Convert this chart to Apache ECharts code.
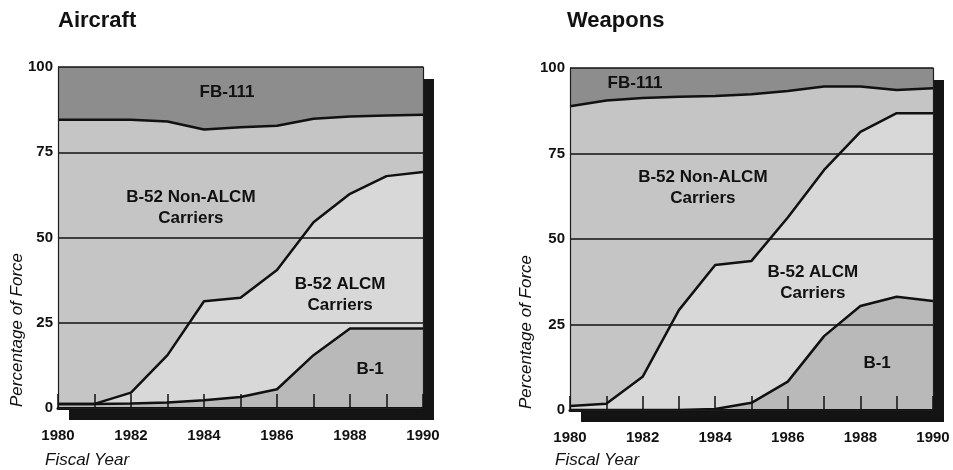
<!DOCTYPE html>
<html>
<head>
<meta charset="utf-8">
<script src="https://cdn.jsdelivr.net/npm/echarts@6/dist/echarts.min.js"></script>
<style>
  html, body { margin: 0; padding: 0; background: #ffffff; }
  #chart { width: 953px; height: 470px; }
</style>
</head>
<body>
<div id="chart"></div>
<script>
// Fiscal years on the horizontal axis
const years = [1980, 1981, 1982, 1983, 1984, 1985, 1986, 1987, 1988, 1989, 1990];
const yTicks = [0, 25, 50, 75, 100];

// Aircraft: cumulative upper edge of each band (percent of force)
const aircraftNonAlcmTop = [84.5, 84.5, 84.5, 84, 81.7, 82.3, 82.8, 84.8, 85.5, 85.8, 86];
const aircraftAlcmTop    = [1.2, 1.2, 4.5, 15.5, 31.3, 32.3, 40.5, 54.5, 62.8, 68, 69.2];
const aircraftB1Top      = [1.2, 1.2, 1.3, 1.6, 2.3, 3.2, 5.5, 15.5, 23.3, 23.3, 23.3];

// Weapons: cumulative upper edge of each band (percent of force)
const weaponsNonAlcmTop = [88.8, 90.5, 91.2, 91.6, 91.8, 92.3, 93.3, 94.6, 94.6, 93.6, 94.1];
const weaponsAlcmTop    = [1.2, 1.8, 9.7, 29.2, 42.4, 43.6, 56.3, 70.2, 81.3, 86.8, 86.8];
const weaponsB1Top      = [0, 0, 0, 0, 0.3, 2.1, 8.3, 21.6, 30.4, 33.1, 31.9];

// Band names written inside the plots, with the data position of each label
const bandNames = ['FB-111', 'B-52 Non-ALCM\nCarriers', 'B-52 ALCM\nCarriers', 'B-1'];
const aircraftLabelAt = [[1984.63, 92.6], [1983.64, 58.8], [1987.73, 33.1], [1988.55, 11.2]];
const weaponsLabelAt  = [[1981.79, 95.6], [1983.66, 65.1], [1986.69, 37.3], [1988.46, 13.7]];

const panelTitles = ['Aircraft', 'Weapons'];

const COLORS = {
  fb111: '#8d8d8d',
  nonAlcm: '#c5c5c5',
  alcm: '#d8d8d8',
  b1: '#b9b9b9',
  ink: '#111111'
};
const FONT = '"Liberation Sans", Arial, Helvetica, sans-serif';

const chart = echarts.init(document.getElementById('chart'), null, { renderer: 'canvas' });

function pairs(values) {
  return years.map((y, i) => [y, values[i]]);
}

// Plot panel with a hard drop shadow below and to the right
function gridDef(left, top, width, height) {
  return {
    left: left, top: top, width: width, height: height,
    show: true,
    backgroundColor: COLORS.fb111,
    borderWidth: 0,
    shadowColor: '#141414',
    shadowBlur: 0,
    shadowOffsetX: 11,
    shadowOffsetY: 12
  };
}

function xAxisDef(gridIndex) {
  return {
    type: 'value', gridIndex: gridIndex,
    min: 1980, max: 1990, interval: 1,
    z: 4,
    axisLine: { show: true, lineStyle: { color: COLORS.ink, width: 3 } },
    axisTick: { show: true, inside: true, length: 14, lineStyle: { color: COLORS.ink, width: 1.5 } },
    splitLine: { show: false },
    axisLabel: {
      margin: 20,
      fontFamily: FONT, fontWeight: 'bold', fontSize: 15, color: COLORS.ink,
      formatter: v => (v % 2 === 0 ? String(v) : '')
    }
  };
}

// Frame edge only (top or right side of a panel)
function frameAxis(kind, gridIndex) {
  const a = {
    type: 'value', gridIndex: gridIndex,
    position: kind === 'x' ? 'top' : 'right',
    min: 0, max: 1,
    z: 4,
    axisLine: { show: true, lineStyle: { color: '#1e1e1e', width: 1.2 } },
    axisTick: { show: false },
    axisLabel: { show: false },
    splitLine: { show: false }
  };
  return a;
}

function yAxisDef(gridIndex) {
  return {
    type: 'value', gridIndex: gridIndex,
    min: yTicks[0], max: yTicks[yTicks.length - 1], interval: 25,
    z: 4,
    axisLine: { show: true, lineStyle: { color: '#1e1e1e', width: 1.2 } },
    axisTick: { show: false },
    splitLine: { show: true, lineStyle: { color: COLORS.ink, width: 1.5 } },
    axisLabel: {
      margin: 5,
      fontFamily: FONT, fontWeight: 'bold', fontSize: 15, color: COLORS.ink
    }
  };
}

function band(values, color, axisIndex) {
  return {
    type: 'line',
    xAxisIndex: axisIndex, yAxisIndex: axisIndex,
    data: pairs(values),
    symbol: 'none',
    silent: true,
    lineStyle: { color: COLORS.ink, width: 2.5 },
    areaStyle: { color: color, opacity: 1, origin: 'start' }
  };
}

function labels(positions, axisIndex) {
  return {
    type: 'scatter',
    xAxisIndex: axisIndex, yAxisIndex: axisIndex,
    symbolSize: 0,
    silent: true,
    z: 5,
    itemStyle: { opacity: 1 },
    data: positions.map((p, i) => ({ name: bandNames[i], value: p })),
    label: {
      show: true, position: 'inside',
      formatter: '{b}',
      fontFamily: FONT, fontWeight: 'bold', fontSize: 17, lineHeight: 21,
      color: '#111111', align: 'center', verticalAlign: 'middle'
    }
  };
}

function sideText(text, x, y, opts) {
  return Object.assign({
    type: 'text', x: x, y: y, silent: true,
    style: Object.assign({
      text: text, fill: COLORS.ink, fontFamily: FONT
    }, opts.style)
  }, opts.extra || {});
}

const option = {
  animation: false,
  backgroundColor: '#ffffff',
  grid: [gridDef(58, 67, 365, 341), gridDef(570, 68, 363, 342)],
  xAxis: [xAxisDef(0), xAxisDef(1), frameAxis('x', 0), frameAxis('x', 1)],
  yAxis: [yAxisDef(0), yAxisDef(1), frameAxis('y', 0), frameAxis('y', 1)],
  series: [
    band(aircraftNonAlcmTop, COLORS.nonAlcm, 0),
    band(aircraftAlcmTop, COLORS.alcm, 0),
    band(aircraftB1Top, COLORS.b1, 0),
    labels(aircraftLabelAt, 0),
    band(weaponsNonAlcmTop, COLORS.nonAlcm, 1),
    band(weaponsAlcmTop, COLORS.alcm, 1),
    band(weaponsB1Top, COLORS.b1, 1),
    labels(weaponsLabelAt, 1)
  ],
  graphic: [
    sideText(panelTitles[0], 58, 21, { style: { fontSize: 22, fontWeight: 'bold', textAlign: 'left', textVerticalAlign: 'middle' } }),
    sideText(panelTitles[1], 567, 21, { style: { fontSize: 22, fontWeight: 'bold', textAlign: 'left', textVerticalAlign: 'middle' } }),
    sideText('Percentage of Force', 17, 330, { style: { fontSize: 17, fontStyle: 'italic', textAlign: 'center', textVerticalAlign: 'middle' }, extra: { rotation: Math.PI / 2 } }),
    sideText('Percentage of Force', 526, 332, { style: { fontSize: 17, fontStyle: 'italic', textAlign: 'center', textVerticalAlign: 'middle' }, extra: { rotation: Math.PI / 2 } }),
    sideText('Fiscal Year', 45, 460, { style: { fontSize: 17, fontStyle: 'italic', textAlign: 'left', textVerticalAlign: 'middle' } }),
    sideText('Fiscal Year', 555, 460, { style: { fontSize: 17, fontStyle: 'italic', textAlign: 'left', textVerticalAlign: 'middle' } })
  ]
};

chart.setOption(option);
</script>
</body>
</html>
